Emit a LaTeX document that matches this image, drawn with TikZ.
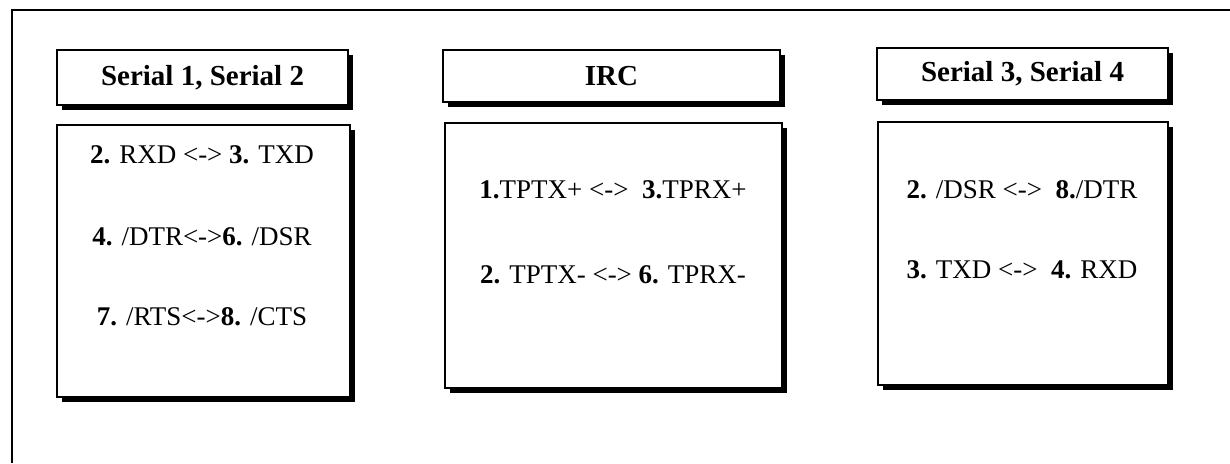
\documentclass[tikz,border=0pt]{standalone}
\usepackage{fontspec}
\setmainfont{Liberation Serif}
\usepackage{tikz}
\usetikzlibrary{shadows}

\begin{document}
\begin{tikzpicture}[x=0.5pt, y=-0.5pt,
		titlebox/.style={draw, line width=0.8pt, fill=white, inner sep=0pt,
			font=\fontsize{14.5}{16}\selectfont\bfseries,
			drop shadow={shadow xshift=2.6pt, shadow yshift=-2.6pt, fill=black, opacity=1}},
		bodybox/.style={draw, line width=0.8pt, fill=white, inner sep=0pt,
			drop shadow={shadow xshift=2.6pt, shadow yshift=-2.6pt, fill=black, opacity=1}},
		pinline/.style={font=\fontsize{13.5}{15}\selectfont, inner sep=0pt}]
	\useasboundingbox (0,0) rectangle (1230,463);

	% outer frame, only top and left edges show
	\draw[line width=1pt] (12,463) -- (12,10) -- (1232,10);

	% Serial 1, Serial 2
	\node[titlebox, minimum width=145.5pt, minimum height=27.5pt] (ser12) at (202.5,77.5) {Serial 1, Serial 2};
	\node[bodybox, minimum width=146.5pt, minimum height=136pt] (ser12b) at (203.5,261) {};
	\node[pinline] (s12a) at (202,155) {\textbf{2.} RXD <-> \textbf{3.} TXD};
	\node[pinline] (s12b) at (202,237) {\textbf{4.} /DTR<->\textbf{6.} /DSR};
	\node[pinline] (s12c) at (202,317) {\textbf{7.} /RTS<->\textbf{8.} /CTS};

	% IRC
	\node[titlebox, minimum width=168.5pt, minimum height=26pt] (irc) at (611.5,76) {IRC};
	\node[bodybox, minimum width=168.5pt, minimum height=132.5pt] (ircb) at (613.5,255.5) {};
	\node[pinline] (irca) at (613,190) {\textbf{1.}TPTX+ <->\ \ \textbf{3.}TPRX+};
	\node[pinline] (ircb2) at (613,275) {\textbf{2.} TPTX- <-> \textbf{6.} TPRX-};

	% Serial 3, Serial 4
	\node[titlebox, minimum width=145.5pt, minimum height=26pt] (ser34) at (1022.5,74) {Serial 3, Serial 4};
	\node[bodybox, minimum width=145pt, minimum height=131.5pt] (ser34b) at (1023,253.5) {};
	\node[pinline] (s34a) at (1022,190) {\textbf{2.} /DSR <->\ \ \textbf{8.}/DTR};
	\node[pinline] (s34b) at (1022,270) {\textbf{3.} TXD <->\ \ \textbf{4.} RXD};
\end{tikzpicture}
\end{document}
